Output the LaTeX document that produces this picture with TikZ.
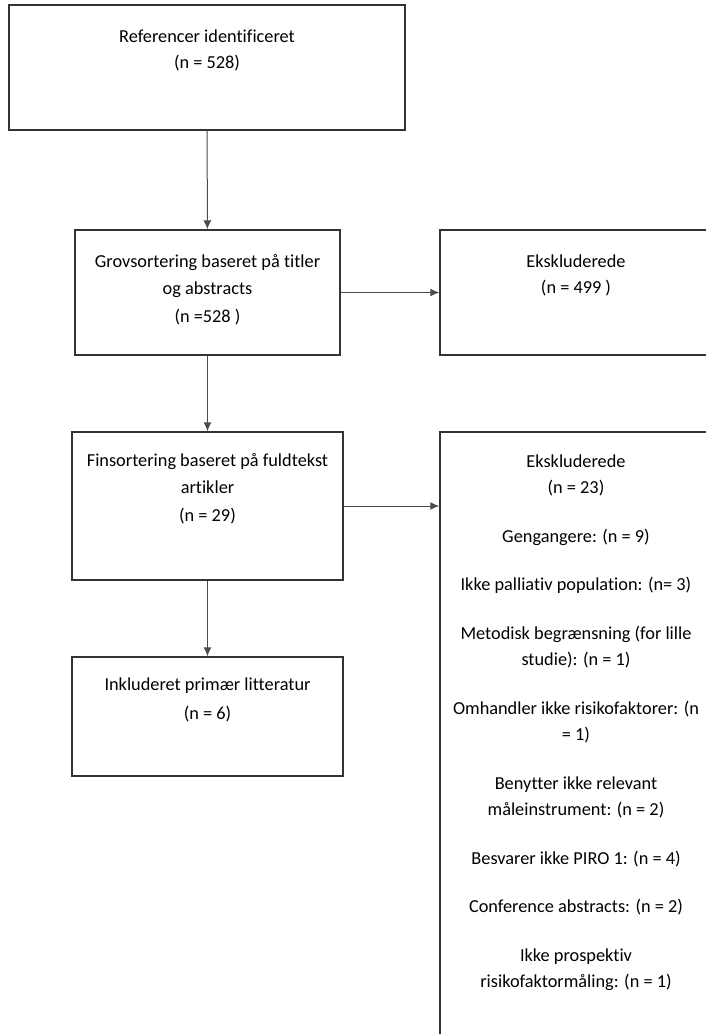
\documentclass[tikz,border=0pt]{standalone}
\usepackage{fontspec}
\setmainfont[Ligatures=NoCommon]{Carlito}
\usetikzlibrary{calc}
\usetikzlibrary{arrows.meta}
\definecolor[named]{BoxLine}{gray}{0.2}
\definecolor[named]{ArrowLine}{gray}{0.3}
\tikzset{
  stagebox/.style={draw=BoxLine,line width=1.5pt,rectangle,inner sep=0pt},
  stagetext/.style={anchor=north,align=center,inner sep=0pt},
  flowarrow/.style={draw=ArrowLine,line width=1pt,-{Latex[length=9pt,width=8pt]}},
}
\newcommand{\gap}{\\[22pt]}

\begin{document}
\begin{tikzpicture}[x=1pt,y=-1pt]
      \clip[use as bounding box] (0,0) rectangle (706,1034);
      \fontsize{18.3}{26.5}\selectfont

      % Left column {{{

      \node[stagebox,minimum width=396pt,minimum height=125pt] (ref) at (207,67.5) {};
      \node[stagebox,minimum width=265pt,minimum height=125pt] (grov) at (207.5,292.5) {};
      \node[stagebox,minimum width=271pt,minimum height=148pt] (fin) at (207.5,506) {};
      \node[stagebox,minimum width=271pt,minimum height=119pt] (incl) at (207.5,716.5) {};

      \node[stagetext] (refT) at ($(ref.north)+(0,25)$)
        {Referencer identificeret\\(n = 528)};
      \node[stagetext] (grovT) at ($(grov.north)+(0,25)$)
        {Grovsortering baseret på titler\\[1pt]og abstracts\\[1pt](n =528 )};
      \node[stagetext] (finT) at ($(fin.north)+(0,22)$)
        {Finsortering baseret på fuldtekst\\[1pt]artikler\\[1pt](n = 29)};
      \node[stagetext] (inclT) at ($(incl.north)+(0,21)$)
        {Inkluderet primær litteratur\\[3pt](n = 6)};

      % }}}

      % Right column {{{

      \node[stagebox,minimum width=272pt,minimum height=125pt] (exA) at (576,292.5) {};
      \node[stagebox,minimum width=272pt,minimum height=640pt] (exB) at (576,752) {};

      \node[stagetext] (exAT) at ($(exA.north)+(0,25)$)
        {Ekskluderede\\(n = 499 )};
      \node[stagetext] (exBT) at ($(exB.north)+(0,23)$)
        {Ekskluderede\\(n = 23)\gap
         Gengangere: (n = 9)\gap
         Ikke palliativ population: (n= 3)\gap
         Metodisk begrænsning (for lille\\studie): (n = 1)\gap
         Omhandler ikke risikofaktorer: (n\\= 1)\gap
         Benytter ikke relevant\\måleinstrument: (n = 2)\gap
         Besvarer ikke PIRO 1: (n = 4)\gap
         Conference abstracts: (n = 2)\gap
         Ikke prospektiv\\risikofaktormåling: (n = 1)};

      % }}}

      \draw[flowarrow] (ref) -- (grov);
      \draw[flowarrow] (grov) -- (fin);
      \draw[flowarrow] (fin) -- (incl);
      \draw[flowarrow] (grov) -- (exA);
      \draw[flowarrow] (fin.east) -- (fin.east -| exB.west);

\end{tikzpicture}
\end{document}
